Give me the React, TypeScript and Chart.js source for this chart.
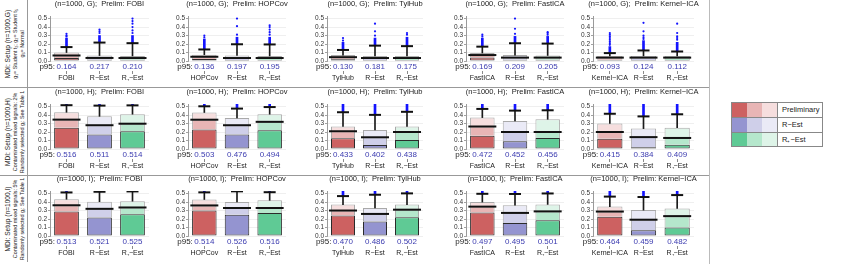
import React, { useEffect, useRef } from 'react';
import { Chart, registerables } from 'chart.js';
Chart.register(...registerables);

const FONT = "'Liberation Sans', Arial, Helvetica, sans-serif";

const prelimNames = ['FOBI', 'HOPCov', 'TylHub', 'FastICA', 'Kernel−ICA'];
const estNames = ['R−Est', 'R₊−Est'];
const setupNames = ['G', 'H', 'I'];
const yTicks = [0, 0.1, 0.2, 0.3, 0.4, 0.5];

// ---- Setup G ----
const q1_G = [[0.035, 0.015, 0.015], [0.025, 0.012, 0.012], [0.02, 0.012, 0.012], [0.04, 0.015, 0.015], [0.015, 0.012, 0.012]];
const med_G = [[0.065, 0.036, 0.035], [0.05, 0.035, 0.035], [0.045, 0.035, 0.035], [0.07, 0.04, 0.04], [0.04, 0.04, 0.04]];
const q3_G = [[0.1, 0.064, 0.06], [0.075, 0.065, 0.06], [0.07, 0.06, 0.06], [0.095, 0.07, 0.065], [0.06, 0.06, 0.06]];
const p95_G = [[0.164, 0.217, 0.21], [0.136, 0.197, 0.195], [0.13, 0.181, 0.175], [0.169, 0.209, 0.205], [0.093, 0.124, 0.112]];
const dense_G = [[0.27, 0.3, 0.3], [0.26, 0.28, 0.28], [0.22, 0.27, 0.28], [0.27, 0.29, 0.29], [0.17, 0.24, 0.22]];
const sparse_G = [
  [[0.29, 0.3, 0.32], [0.33, 0.35, 0.37], [0.33, 0.36, 0.4, 0.44, 0.47, 0.5]],
  [[0.28, 0.3], [0.31, 0.41, 0.5], [0.31, 0.34, 0.37, 0.4, 0.42]],
  [[0.24, 0.27], [0.3, 0.35, 0.44], [0.31, 0.33]],
  [[0.29, 0.31], [0.32, 0.38, 0.5], [0.31, 0.33, 0.34]],
  [[0.19, 0.21, 0.23, 0.25, 0.27, 0.29, 0.31, 0.33], [0.26, 0.28, 0.3, 0.35, 0.45], [0.25, 0.27, 0.29, 0.33, 0.44]],
];

// ---- Setup H ----
const q1_H = [[0.25, 0.17, 0.21], [0.23, 0.17, 0.22], [0.128, 0.048, 0.106], [0.155, 0.09, 0.13], [0.12, 0.02, 0.05]];
const med_H = [[0.346, 0.28, 0.298], [0.345, 0.28, 0.32], [0.209, 0.138, 0.2], [0.265, 0.2, 0.2], [0.2, 0.14, 0.13]];
const q3_H = [[0.433, 0.385, 0.41], [0.43, 0.365, 0.41], [0.266, 0.224, 0.266], [0.37, 0.33, 0.35], [0.3, 0.24, 0.25]];
const p95_H = [[0.516, 0.511, 0.514], [0.503, 0.476, 0.494], [0.433, 0.402, 0.438], [0.472, 0.452, 0.456], [0.415, 0.384, 0.409]];
const dense_H = [[0.56, 0.56, 0.56], [0.56, 0.56, 0.56], [0.56, 0.56, 0.56], [0.56, 0.56, 0.56], [0.56, 0.56, 0.56]];
const sparse_H = [[[], [], []], [[], [], []], [[], [], []], [[], [], []], [[], [], []]];

// ---- Setup I ----
const q1_I = [[0.29, 0.218, 0.256], [0.3, 0.25, 0.27], [0.24, 0.17, 0.22], [0.276, 0.154, 0.186], [0.228, 0.067, 0.099]];
const med_I = [[0.362, 0.32, 0.336], [0.36, 0.33, 0.33], [0.3, 0.26, 0.31], [0.346, 0.272, 0.29], [0.288, 0.192, 0.234]];
const q3_I = [[0.433, 0.404, 0.41], [0.43, 0.4, 0.42], [0.37, 0.33, 0.37], [0.4, 0.362, 0.372], [0.346, 0.305, 0.324]];
const p95_I = [[0.513, 0.521, 0.525], [0.514, 0.526, 0.516], [0.47, 0.486, 0.502], [0.497, 0.495, 0.501], [0.464, 0.459, 0.482]];
const dense_I = [[0.56, 0.56, 0.56], [0.56, 0.56, 0.56], [0.56, 0.56, 0.56], [0.56, 0.56, 0.56], [0.56, 0.56, 0.56]];
const sparse_I = [[[], [], []], [[], [], []], [[], [], []], [[], [], []], [[], [], []]];

const rowLabels = [
  ['MDI: Setup (n=1000,G)', 'g₁= Student t₂; g₂= Student t₅', 'g₃= Normal'],
  ['MDI: Setup (n=1000,H)', 'Contaminated mixed signals: 2%', 'Randomly selected gⱼ: See Table 1'],
  ['MDI: Setup (n=1000,I)', 'Contaminated mixed signals: 5%', 'Randomly selected gⱼ: See Table 1'],
];
const legendLabels = ['Preliminary', 'R−Est', 'R₊−Est'];

const rows = [
  { q1: q1_G, med: med_G, q3: q3_G, p95: p95_G, dense: dense_G, sparse: sparse_G },
  { q1: q1_H, med: med_H, q3: q3_H, p95: p95_H, dense: dense_H, sparse: sparse_H },
  { q1: q1_I, med: med_I, q3: q3_I, p95: p95_I, dense: dense_I, sparse: sparse_I },
];

// styling / layout
const DARK = ['#cd6161', '#9494d0', '#5fca95'];
const MID = ['#e8b5b5', '#cfcfe9', '#b5e7cc'];
const LIGHT = ['#f6dede', '#eaeaf6', '#def4e8'];
const BLUE = '#1414ff';
const ROW_TOP = [0, 88, 175];
const ROW_H = 87;
const AREA_LEFT = [50, 188, 327, 466, 593];
const AREA_W = [113, 112, 110, 112, 115];
const AXW = 24;
const PAD_TOP = 6;

function Panel({ row, col }: { row: number; col: number }) {
  const ref = useRef<HTMLCanvasElement>(null);
  const width = AXW + AREA_W[col] + 2;
  useEffect(() => {
    const d = rows[row];
    const labels = [prelimNames[col], ...estNames];
    const q1 = d.q1[col], med = d.med[col], q3 = d.q3[col], p95 = d.p95[col], dense = d.dense[col], sparse = d.sparse[col];
    const p95Labels = p95.map((v) => v.toFixed(3));
    const title = `(n=1000, ${setupNames[row]});  Prelim: ${prelimNames[col]}`;
    const pts = (vals: number[]) => vals.map((y, i) => ({ x: labels[i], y }));
    const sparsePts: { x: string; y: number }[] = [];
    sparse.forEach((arr: number[], i: number) => arr.forEach((y) => sparsePts.push({ x: labels[i], y })));
    const barCommon = { grouped: false, barPercentage: 0.75, categoryPercentage: 1, xAxisID: 'x', yAxisID: 'y' };
    const chart = new Chart(ref.current!, {
      type: 'bar',
      data: {
        labels,
        datasets: [
          { ...barCommon, type: 'bar', data: labels.map((_, i) => [med[i], q3[i]]), backgroundColor: LIGHT, borderColor: '#a9a9a9', borderWidth: 1, borderSkipped: 'start', order: 10 },
          { ...barCommon, type: 'bar', data: labels.map((_, i) => [q1[i], med[i]]), backgroundColor: MID, borderColor: '#a9a9a9', borderWidth: 1, borderSkipped: 'start', order: 9 },
          { ...barCommon, type: 'bar', data: labels.map((_, i) => [0, q1[i]]), backgroundColor: DARK, borderColor: '#2b2b2b', borderWidth: 1, borderSkipped: false, order: 8 },
          { ...barCommon, type: 'bar', data: labels.map((_, i) => [q3[i], p95[i]]), backgroundColor: '#1a1a1a', barThickness: 1, order: 7 },
          { ...barCommon, type: 'bar', data: labels.map((_, i) => [p95[i], dense[i]]), backgroundColor: BLUE, barThickness: 2, order: 6 },
          { type: 'line', xAxisID: 'x', yAxisID: 'y', data: sparsePts, showLine: false, pointRadius: 1.1, pointBorderWidth: 0, pointBackgroundColor: BLUE, order: 5 },
          { type: 'line', xAxisID: 'x', yAxisID: 'y', data: pts(med), showLine: false, pointStyle: 'line', pointRadius: 14, pointBorderWidth: 2, pointBorderColor: '#111', order: 4 },
          { type: 'line', xAxisID: 'x', yAxisID: 'y', data: pts(p95), showLine: false, pointStyle: 'line', pointRadius: 6, pointBorderWidth: 2, pointBorderColor: '#111', order: 3 },
        ] as any,
      },
      options: {
        animation: false,
        responsive: false,
        events: [],
        layout: { padding: { top: PAD_TOP, right: 2, left: 0, bottom: 0 } },
        plugins: { legend: { display: false }, tooltip: { enabled: false }, title: { display: false } },
        scales: {
          x: {
            type: 'category', position: 'bottom', weight: 1, offset: true,
            grid: { display: true, drawOnChartArea: false, drawTicks: true, tickLength: 3, color: '#8a8a8a', offset: false },
            border: { display: false },
            ticks: { font: { size: 7, family: FONT }, color: '#222', padding: 0, maxRotation: 0, autoSkip: false },
            afterFit: (s: any) => { s.height = 16; },
          },
          xp: {
            type: 'category', position: 'bottom', weight: 0, offset: true, labels: p95Labels,
            grid: { display: false, drawTicks: false },
            border: { display: false },
            ticks: { font: { size: 8, family: FONT }, color: '#3b3bb0', padding: 1, maxRotation: 0, autoSkip: false },
            afterFit: (s: any) => { s.height = 10; },
          },
          y: {
            type: 'linear', position: 'left', min: 0, max: 0.53,
            afterBuildTicks: (s: any) => { s.ticks = yTicks.map((value) => ({ value })); },
            ticks: { font: { size: 6.5, family: FONT }, color: '#333', padding: 1, autoSkip: false, callback: (v: any) => Number(v).toFixed(1) },
            grid: { color: '#ebebeb', lineWidth: 0.8, tickLength: 2, tickColor: '#8a8a8a' },
            border: { color: '#9a9a9a' },
            afterFit: (s: any) => { s.width = AXW; },
          },
        } as any,
      },
      plugins: [
        {
          id: 'decor',
          afterDraw(c: any) {
            const ctx = c.ctx;
            const a = c.chartArea;
            ctx.save();
            ctx.font = `7.5px ${FONT}`;
            ctx.fillStyle = '#222';
            ctx.textAlign = 'center';
            ctx.textBaseline = 'top';
            ctx.fillText(title, (a.left + a.right) / 2, 0.5);
            const xp = c.scales.xp;
            const x0 = xp.getPixelForTick(0);
            ctx.font = `8px ${FONT}`;
            const w = ctx.measureText(p95Labels[0]).width;
            ctx.textAlign = 'right';
            ctx.textBaseline = 'middle';
            ctx.fillText('p95:', x0 - w / 2 - 1.5, xp.top + 1 + 4.8);
            ctx.restore();
          },
        },
      ],
    });
    return () => chart.destroy();
  }, [row, col]);
  return (
    <canvas
      ref={ref}
      width={width}
      height={ROW_H}
      style={{ position: 'absolute', left: AREA_LEFT[col] - AXW, top: ROW_TOP[row], width, height: ROW_H, display: 'block' }}
    />
  );
}

function RowLabel({ row }: { row: number }) {
  const lines = rowLabels[row];
  return (
    <div style={{ position: 'absolute', left: 0, top: ROW_TOP[row], width: 28, height: ROW_H, borderRight: '1px solid #999', boxSizing: 'border-box', overflow: 'hidden' }}>
      <div
        style={{
          position: 'absolute', left: (28 - ROW_H) / 2, top: (ROW_H - 28) / 2, width: ROW_H, height: 28,
          transform: 'rotate(-90deg)', display: 'flex', flexDirection: 'column', alignItems: 'center', justifyContent: 'center',
          color: '#222', whiteSpace: 'nowrap',
        }}
      >
        <div style={{ fontSize: 6.6, lineHeight: '8px' }}>{lines[0]}</div>
        <div style={{ fontSize: 5.4, lineHeight: '7px' }}>{lines[1]}</div>
        <div style={{ fontSize: 5.4, lineHeight: '7px' }}>{lines[2]}</div>
      </div>
    </div>
  );
}

function Legend() {
  return (
    <div style={{ position: 'absolute', left: 731, top: 102, width: 92, height: 45, border: '1px solid #888', boxSizing: 'border-box', background: '#fff' }}>
      {legendLabels.map((lab, i) => (
        <div key={lab} style={{ position: 'absolute', left: 0, top: i * 14.4, width: 90, height: 14.4, borderTop: i > 0 ? '1px solid #888' : 'none', boxSizing: 'border-box' }}>
          <span style={{ position: 'absolute', left: 0, top: 0, bottom: 0, width: 15, background: DARK[i] }} />
          <span style={{ position: 'absolute', left: 15, top: 0, bottom: 0, width: 15, background: MID[i] }} />
          <span style={{ position: 'absolute', left: 30, top: 0, bottom: 0, width: 15, background: LIGHT[i] }} />
          <span style={{ position: 'absolute', left: 45, top: 0, bottom: 0, width: 1, background: '#888' }} />
          <span style={{ position: 'absolute', left: 50, top: 0, fontSize: 7.5, fontWeight: 'normal', lineHeight: '13px', color: '#222', fontFamily: FONT }}>{lab}</span>
        </div>
      ))}
    </div>
  );
}

export default function App() {
  return (
    <div style={{ position: 'absolute', left: 0, top: 0, width: 845, height: 264, background: '#fff', overflow: 'hidden', fontFamily: FONT }}>
      {[0, 1, 2].map((r) => <RowLabel key={'l' + r} row={r} />)}
      {[0, 1, 2].map((r) => [0, 1, 2, 3, 4].map((c) => <Panel key={r + '-' + c} row={r} col={c} />))}
      <div style={{ position: 'absolute', left: 0, top: 87, width: 709, height: 1, background: '#999' }} />
      <div style={{ position: 'absolute', left: 0, top: 175, width: 709, height: 1, background: '#999' }} />
      <div style={{ position: 'absolute', left: 709, top: 0, width: 1, height: 264, background: '#bbb' }} />
      <Legend />
    </div>
  );
}
